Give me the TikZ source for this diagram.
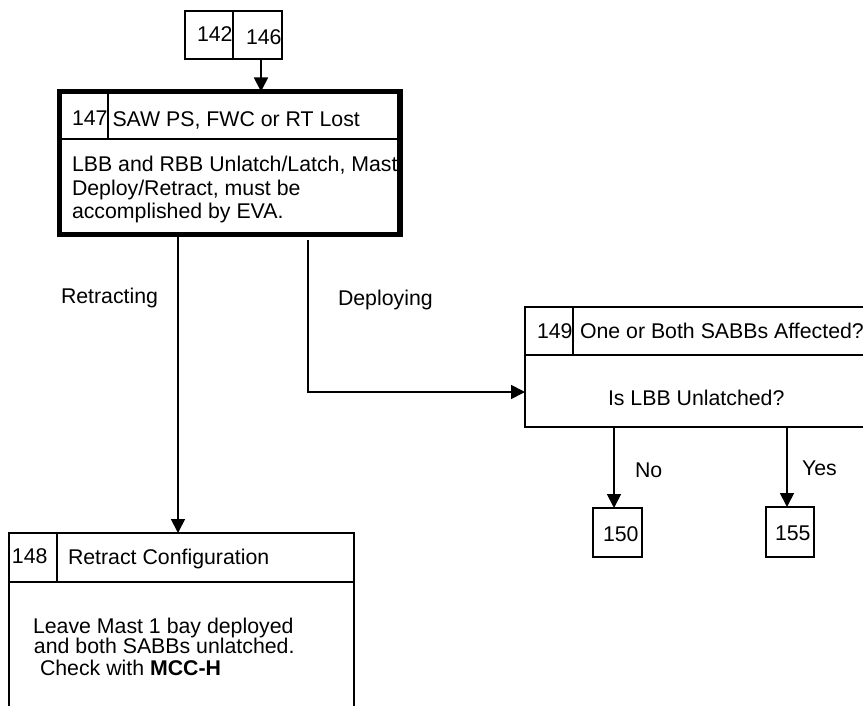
\documentclass[tikz,border=0pt]{standalone}
\usepackage{fontspec}
\setmainfont{Liberation Sans}
\usetikzlibrary{arrows.meta}
\begin{document}
\begin{tikzpicture}[x=1pt,y=-1pt,
  thinline/.style={line width=1.8pt},
  box/.style={draw, line width=1.8pt, rectangle, inner sep=0pt, outer sep=0pt},
  txt/.style={inner sep=0pt, outer sep=0pt, anchor=base west, font=\fontsize{21.3}{21.3}\selectfont},
  arr/.style={line width=1.8pt, -{Triangle[length=14pt,width=14pt]}}]
\useasboundingbox (0,0) rectangle (863,706);

% top reference boxes
\node[box, minimum width=48pt, minimum height=48pt] (b142) at (209,35) {};
\node[box, minimum width=49pt, minimum height=48pt] (b146) at (257.5,35) {};
\node[txt] (t142) at (197,42) {142};
\node[txt] (t146) at (246,44.5) {146};

% box 147
\node[box, line width=5.5pt, minimum width=340.5pt, minimum height=143pt] (b147) at (229.75,163) {};
\draw[thinline] (59.5,139) -- (400,139);
\draw[thinline] (108,91.5) -- (108,139);
\node[txt] (n147) at (72,125.5) {147};
\node[txt] (h147) at (112.5,126.5) {SAW PS, FWC or RT Lost};
\node[txt] (l147a) at (72,172) {LBB and RBB Unlatch/Latch, Mast};
\node[txt] (l147b) at (72,195.5) {Deploy/Retract, must be};
\node[txt] (l147c) at (72,218.5) {accomplished by EVA.};

% box 149
\node[box, minimum width=345pt, minimum height=120pt] (b149) at (697.5,367) {};
\draw[thinline] (525,355) -- (870,355);
\draw[thinline] (573,307) -- (573,355);
\node[txt] (n149) at (537,338) {149};
\node[txt] (h149) at (580,338) {One or Both SABBs Affected?};
\node[txt] (q149) at (608,405) {Is LBB Unlatched?};

% boxes 150 / 155
\node[box, minimum width=49pt, minimum height=49pt] (b150) at (617.5,532.5) {};
\node[box, minimum width=48pt, minimum height=50pt] (b155) at (790,532) {};
\node[txt] (t150) at (603,541) {150};
\node[txt] (t155) at (775,540.5) {155};

% box 148
\node[box, minimum width=345pt, minimum height=207pt] (b148) at (181.5,636.5) {};
\draw[thinline] (9,582) -- (354,582);
\draw[thinline] (57,533) -- (57,582);
\node[txt] (n148) at (12,563.5) {148};
\node[txt] (h148) at (68,564) {Retract Configuration};
\node[txt] (l148a) at (33,633) {Leave Mast 1 bay deployed};
\node[txt] (l148b) at (34,653.5) {and both SABBs unlatched.};
\node[txt] (l148c) at (40,675) {Check with \textbf{MCC-H}};

% connectors
\draw[arr] (b146.south -| 261,0) -- (b147.north -| 261,0);
\coordinate (rx) at (178,0);
\draw[arr] (b147.south -| rx) -- (b148.north -| rx);
\coordinate (dtop) at (308,240);
\coordinate (dbend) at (308,392);
\draw[arr] (dtop) -- (dbend) -- (dbend -| b149.west);
\coordinate (nox) at (614,0);
\draw[arr] (b149.south -| nox) -- (b150.north -| nox);
\coordinate (yesx) at (787,0);
\draw[arr] (b149.south -| yesx) -- (b155.north -| yesx);

% labels
\node[txt] (lret) at (61,303) {Retracting};
\node[txt] (ldep) at (338,305) {Deploying};
\node[txt] (lno) at (635,477) {No};
\node[txt] (lyes) at (802,475) {Yes};
\end{tikzpicture}
\end{document}
